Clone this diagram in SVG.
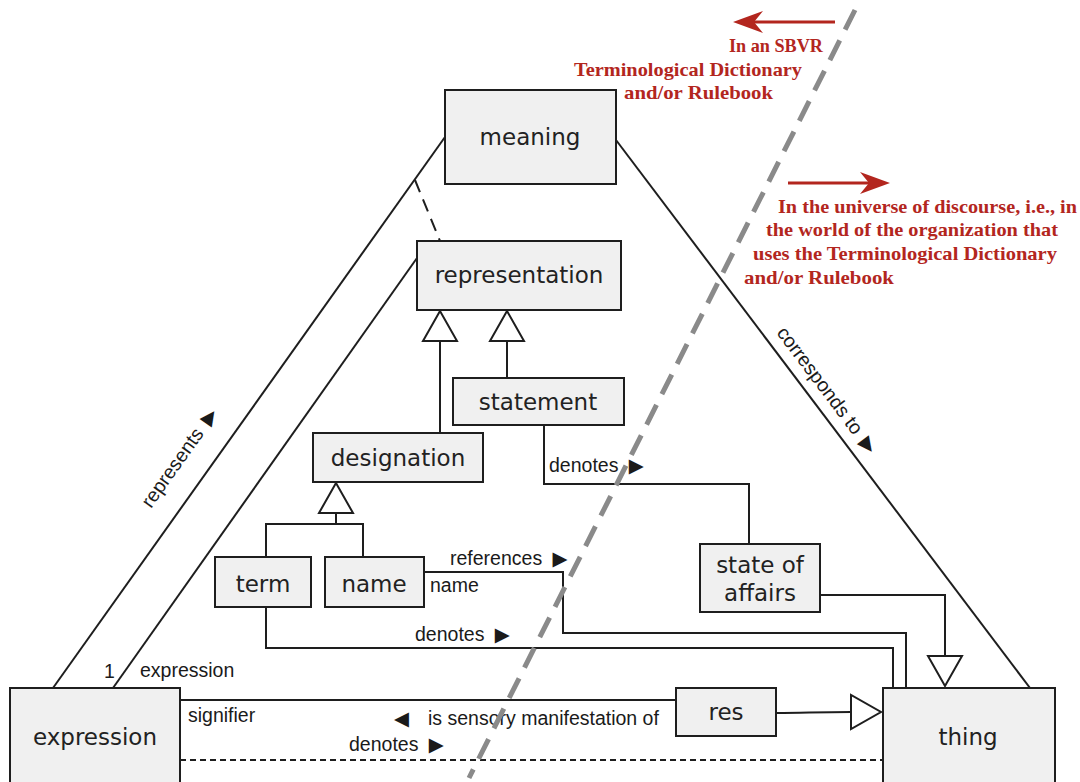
<svg xmlns="http://www.w3.org/2000/svg" width="1080" height="782" viewBox="0 0 1080 782">
<style>
.box{fill:#f0f0f0;stroke:#1e1e1e;stroke-width:2}
.nt{font-family:"DejaVu Sans",Verdana,sans-serif;font-size:23px;fill:#222;text-anchor:middle}
.lbl{font-family:"Liberation Sans",Arial,"DejaVu Sans",sans-serif;font-size:19.5px;fill:#1a1a1a}
.red{font-family:"Liberation Serif","Times New Roman",serif;font-weight:bold;font-size:19px;fill:#b3261e}
.c{stroke:#1e1e1e;stroke-width:2;fill:none}
.gen{fill:#fff;stroke:#1e1e1e;stroke-width:2}
</style>
<rect width="1080" height="782" fill="#fff"/>
<g id="connectors">
<line class="c" x1="445" y1="137" x2="53" y2="688"/>
<line class="c" x1="415" y1="180" x2="440" y2="241" stroke-dasharray="13 8"/>
<line class="c" x1="417" y1="258" x2="113" y2="688"/>
<line class="c" x1="616" y1="140" x2="1030" y2="688"/>
<line class="c" x1="440" y1="341" x2="440" y2="433"/>
<polygon class="gen" points="440,311 423,341 457,341"/>
<line class="c" x1="507" y1="341" x2="507" y2="378"/>
<polygon class="gen" points="507,311 490,341 524,341"/>
<polyline class="c" points="336,513 336,524"/>
<polyline class="c" points="266,557 266,524 363,524 363,557"/>
<polygon class="gen" points="336,483 319,513 353,513"/>
<polyline class="c" points="544,425 544,484 749,484 749,544"/>
<polyline class="c" points="424,572 563,572 563,633 906,633 906,688"/>
<polyline class="c" points="266,607 266,648 893,648 893,688"/>
<polyline class="c" points="820,595 945,595 945,656"/>
<polygon class="gen" points="928,656 962,656 945,686"/>
<line class="c" x1="180" y1="700" x2="676" y2="700"/>
<path class="c" d="M776,713 C805,713 815,712 851,712"/>
<polygon class="gen" points="851,695 851,729 881,712"/>
<line class="c" x1="180" y1="760" x2="883" y2="760" stroke-dasharray="6 4"/>
<text class="lbl" x="151" y="509" transform="rotate(-54.6 151 509)">represents <tspan dx="4">▶</tspan></text>
<text class="lbl" x="776" y="333" transform="rotate(53 776 333)">corresponds to <tspan dx="3">▶</tspan></text>
<text class="lbl" x="549" y="472">denotes <tspan dx="5">▶</tspan></text>
<text class="lbl" x="450" y="565">references <tspan dx="5">▶</tspan></text>
<text class="lbl" x="430" y="592">name</text>
<text class="lbl" x="415" y="641">denotes <tspan dx="5">▶</tspan></text>
<text class="lbl" x="104" y="678">1</text>
<text class="lbl" x="140" y="677">expression</text>
<text class="lbl" x="188" y="722">signifier</text>
<text class="lbl" x="394" y="725">◀<tspan x="428">is sensory manifestation of</tspan></text>
<text class="lbl" x="349" y="751">denotes <tspan dx="5">▶</tspan></text>
</g>
<g id="meaning"><rect class="box" x="445" y="90" width="171" height="94"/><text class="nt" x="530" y="145">meaning</text></g>
<g id="representation"><rect class="box" x="417" y="241" width="204" height="69"/><text class="nt" x="519" y="283">representation</text></g>
<g id="statement"><rect class="box" x="453" y="378" width="171" height="47"/><text class="nt" x="538" y="410">statement</text></g>
<g id="designation"><rect class="box" x="313" y="433" width="170" height="49"/><text class="nt" x="398" y="466">designation</text></g>
<g id="term"><rect class="box" x="215" y="557" width="96" height="50"/><text class="nt" x="263" y="592">term</text></g>
<g id="name"><rect class="box" x="325" y="557" width="99" height="50"/><text class="nt" x="374" y="592">name</text></g>
<g id="state-of-affairs"><rect class="box" x="700" y="544" width="120" height="68"/><text class="nt" x="760" y="573">state of</text><text class="nt" x="760" y="601">affairs</text></g>
<g id="res"><rect class="box" x="676" y="688" width="100" height="48"/><text class="nt" x="726" y="720">res</text></g>
<g id="thing"><rect class="box" x="883" y="688" width="172" height="100"/><text class="nt" x="968" y="745">thing</text></g>
<g id="expression"><rect class="box" x="10" y="688" width="170" height="100"/><text class="nt" x="95" y="745">expression</text></g>
<g id="annotations">
<line x1="835" y1="22" x2="752" y2="22" stroke="#b3261e" stroke-width="3"/>
<polygon points="733,22 763,11 754,22 763,33" fill="#b3261e"/>
<text class="red" x="729" y="52" textLength="94" lengthAdjust="spacingAndGlyphs">In an SBVR</text>
<text class="red" x="574" y="76" textLength="228" lengthAdjust="spacingAndGlyphs">Terminological Dictionary</text>
<text class="red" x="624" y="99" textLength="149" lengthAdjust="spacingAndGlyphs">and/or Rulebook</text>
<line x1="788" y1="183" x2="871" y2="183" stroke="#b3261e" stroke-width="3"/>
<polygon points="890,183 860,172 869,183 860,194" fill="#b3261e"/>
<text class="red" x="778" y="213" textLength="299" lengthAdjust="spacingAndGlyphs">In the universe of discourse, i.e., in</text>
<text class="red" x="766" y="236" textLength="292" lengthAdjust="spacingAndGlyphs">the world of the organization that</text>
<text class="red" x="753" y="260" textLength="304" lengthAdjust="spacingAndGlyphs">uses the Terminological Dictionary</text>
<text class="red" x="744" y="284" textLength="150" lengthAdjust="spacingAndGlyphs">and/or Rulebook</text>
<line x1="855" y1="10" x2="469" y2="778" stroke="#8a8a8a" stroke-width="5" stroke-dasharray="22 12"/>
</g>
</svg>
